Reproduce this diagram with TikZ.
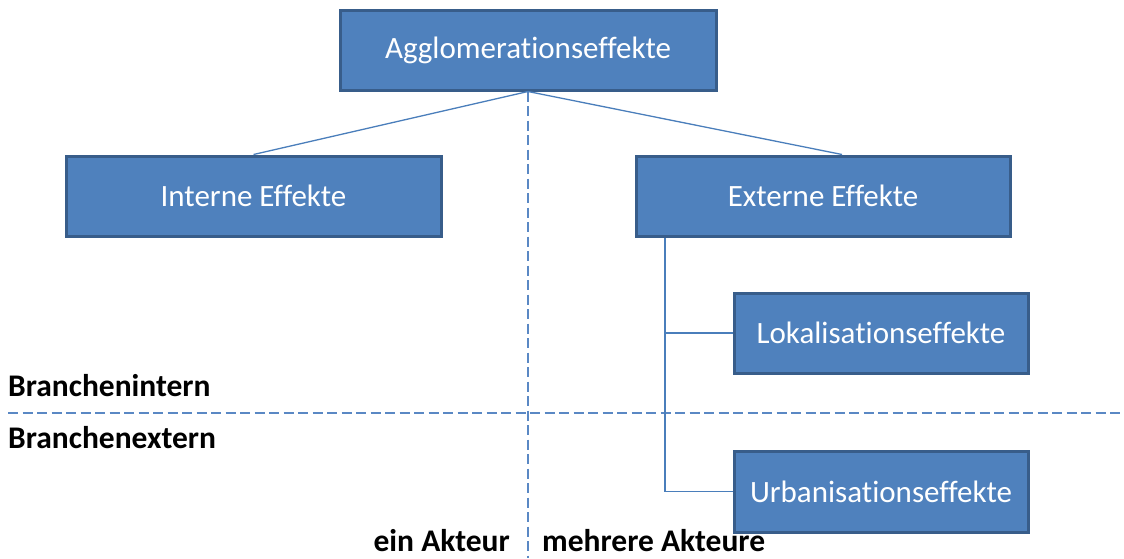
\documentclass[tikz,border=0pt]{standalone}
\usepackage{fontspec}
\setmainfont{Carlito}[Ligatures=NoCommon]
\definecolor{boxfill}{HTML}{4F81BD}
\definecolor{boxdraw}{HTML}{385D8A}
\definecolor{conn}{HTML}{4A7EBB}
\definecolor{dashc}{HTML}{5A88C4}
\tikzset{
  box/.style={draw=boxdraw, fill=boxfill, line width=3pt, text=white, inner sep=0pt,
    font=\fontsize{31}{37}\selectfont},
  connline/.style={draw=conn, line width=1.3pt},
  divline/.style={draw=dashc, line width=1.4pt, dash pattern=on 10pt off 4.5pt},
  lbl/.style={inner sep=0pt, font=\fontsize{31.5}{37}\selectfont\bfseries}
}
\begin{document}
\begin{tikzpicture}[x=1pt,y=-1pt]
\useasboundingbox (0,0) rectangle (1124,558);
% dividers
\coordinate (hl) at (8,413);
\coordinate (hr) at (1124,413);
\coordinate (vb) at (528,558);
% boxes
\node[box, minimum width=376, minimum height=80] (agg) at (528,50) {Agglomerationseffekte};
\node[box, minimum width=375, minimum height=80] (ie) at (253.5,196) {Interne Effekte};
\node[box, minimum width=374, minimum height=80] (ee) at (823,196) {Externe Effekte};
\node[box, minimum width=294, minimum height=80] (lok) at (881,333) {Lokalisationseffekte};
\node[box, minimum width=294, minimum height=81] (urb) at (881,491.5) {Urbanisationseffekte};
% dashed lines
\draw[divline] (hl) -- (hr);
\draw[divline] (agg.south) -- (vb);
% connectors
\draw[connline] (agg.south) -- (ie.north);
\draw[connline] (agg.south) -- ([xshift=19pt]ee.north);
\coordinate (tr) at ([xshift=-158pt]ee.south);
\draw[connline] (tr) |- (urb.west);
\draw[connline] (tr |- lok.west) -- (lok.west);
% labels
\node[lbl, anchor=base west] (bi) at (8,396) {Branchenintern};
\node[lbl, anchor=base west] (be) at (8,448) {Branchenextern};
\node[lbl, anchor=base east] (ea) at (510,551) {ein Akteur};
\node[lbl, anchor=base west] (ma) at (542,551) {mehrere Akteure};
\end{tikzpicture}
\end{document}
